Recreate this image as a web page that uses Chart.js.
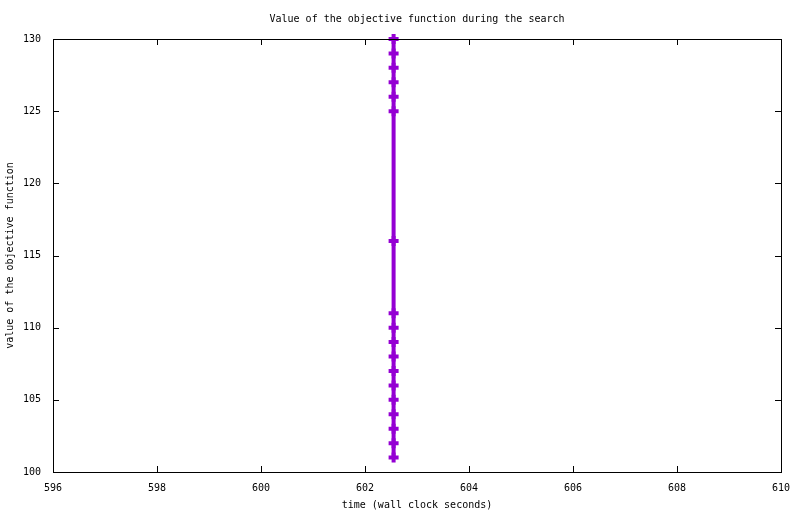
<!DOCTYPE html>
<html>
<head>
<meta charset="utf-8">
<script src="https://cdn.jsdelivr.net/npm/chart.js@4"></script>
<style>
    html, body { margin: 0; padding: 0; background: #ffffff; }
    #wrap { width: 800px; height: 514px; }
</style>
</head>
<body>
<div id="wrap"><canvas id="objective-chart"></canvas></div>
<script>
const TITLE = 'Value of the objective function during the search';
const X_LABEL = 'time (wall clock seconds)';
const Y_LABEL = 'value of the objective function';

// all samples were taken at about the same wall clock time
const times = [602.55, 602.55, 602.55, 602.55, 602.55, 602.55, 602.55, 602.55, 602.55,
    602.55, 602.55, 602.55, 602.55, 602.55, 602.55, 602.55, 602.55, 602.55];
const objectiveValues = [130, 129, 128, 127, 126, 125, 116, 111, 110,
    109, 108, 107, 106, 105, 104, 103, 102, 101];

const X_MIN = 596;
const X_MAX = 610;
const Y_MIN = 100;
const Y_MAX = 130;

const FONT = { family: '"DejaVu Sans Mono", "Liberation Mono", monospace', size: 10 };
const LINE_COLOR = '#9400d3';
const TICK_LEN = 6;

// gnuplot style frame: box border plus inward ticks on all four sides
const framePlugin = {
    id: 'frame',
    afterDraw(chart) {
        const { ctx, chartArea: area, scales } = chart;
        ctx.save();
        ctx.strokeStyle = '#000000';
        ctx.lineWidth = 1;
        ctx.beginPath();
        scales.x.ticks.forEach((tick) => {
            const px = Math.round(scales.x.getPixelForValue(tick.value)) + 0.5;
            ctx.moveTo(px, area.bottom);
            ctx.lineTo(px, area.bottom - TICK_LEN);
            ctx.moveTo(px, area.top);
            ctx.lineTo(px, area.top + TICK_LEN);
        });
        scales.y.ticks.forEach((tick) => {
            const py = Math.round(scales.y.getPixelForValue(tick.value)) + 0.5;
            ctx.moveTo(area.left, py);
            ctx.lineTo(area.left + TICK_LEN, py);
            ctx.moveTo(area.right, py);
            ctx.lineTo(area.right - TICK_LEN, py);
        });
        ctx.stroke();
        ctx.strokeRect(Math.round(area.left) + 0.5, Math.round(area.top) + 0.5,
            Math.round(area.right - area.left), Math.round(area.bottom - area.top));

        ctx.fillStyle = '#000000';
        ctx.font = `${FONT.size}px ${FONT.family}`;
        ctx.textAlign = 'center';
        ctx.textBaseline = 'middle';
        ctx.fillText(TITLE, (area.left + area.right) / 2, 19);
        ctx.restore();
    }
};

const points = times.map((t, i) => ({ x: t, y: objectiveValues[i] }));

new Chart(document.getElementById('objective-chart'), {
    type: 'scatter',
    data: {
        datasets: [{
            label: 'objective',
            data: points,
            showLine: true,
            borderColor: LINE_COLOR,
            backgroundColor: LINE_COLOR,
            borderWidth: 4,
            pointStyle: 'cross',
            pointRadius: 5,
            pointBorderWidth: 4,
            pointBorderColor: LINE_COLOR,
            clip: false
        }]
    },
    options: {
        responsive: true,
        maintainAspectRatio: false,
        animation: false,
        layout: {
            padding: { top: 39, right: 19, left: 0, bottom: 0 }
        },
        plugins: {
            legend: { display: false },
            tooltip: { enabled: false }
        },
        scales: {
            x: {
                type: 'linear',
                min: X_MIN,
                max: X_MAX,
                afterFit: (scale) => { scale.height = 42; },
                grid: { display: false },
                border: { display: false },
                ticks: {
                    stepSize: 2,
                    color: '#000000',
                    font: FONT,
                    padding: 2,
                    maxRotation: 0
                },
                title: {
                    display: true,
                    text: X_LABEL,
                    color: '#000000',
                    font: FONT,
                    padding: { top: 0, bottom: 3 }
                }
            },
            y: {
                type: 'linear',
                min: Y_MIN,
                max: Y_MAX,
                afterFit: (scale) => { scale.width = 53; },
                grid: { display: false },
                border: { display: false },
                ticks: {
                    stepSize: 5,
                    color: '#000000',
                    font: FONT,
                    padding: 4
                },
                title: {
                    display: true,
                    text: Y_LABEL,
                    color: '#000000',
                    font: FONT,
                    padding: { top: 4, bottom: 0 }
                }
            }
        }
    },
    plugins: [framePlugin]
});
</script>
</body>
</html>
